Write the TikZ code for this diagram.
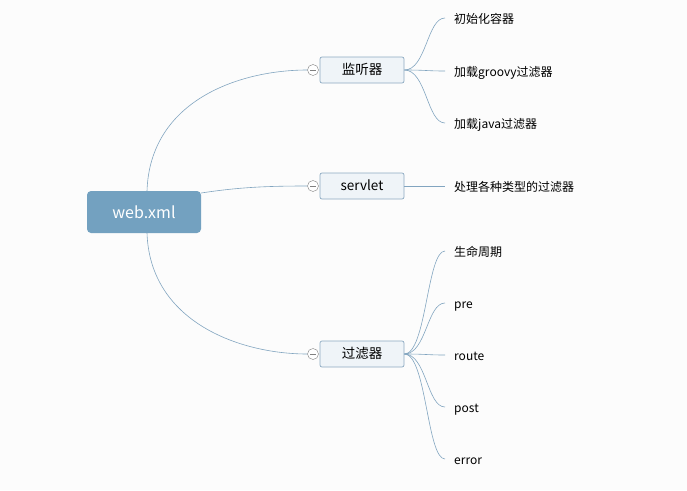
\documentclass[tikz,border=0pt]{standalone}
\usepackage{fontspec}
\setmainfont{Noto Sans CJK SC}
\definecolor{rootblue}{RGB}{115,161,192}
\definecolor{topicfill}{RGB}{239,244,248}
\definecolor{topicline}{RGB}{140,170,194}
\definecolor{branch}{RGB}{130,165,192}
\definecolor{bg}{RGB}{252,252,252}
\tikzset{
  rootbox/.style={fill=rootblue, rounded corners=4pt, text=white, minimum width=114pt, minimum height=42pt, font=\fontsize{16}{18}\selectfont},
  topicbox/.style={draw=topicline, line width=0.7pt, fill=topicfill, rounded corners=2pt, minimum width=84pt, minimum height=26pt, text height=10pt, text depth=2pt, font=\fontsize{13.5}{15}\selectfont},
  fold/.style={circle, draw=gray, fill=white, minimum size=11pt, inner sep=0pt, path picture={\draw[gray] ([xshift=-3pt]path picture bounding box.center) -- ([xshift=3pt]path picture bounding box.center);}},
  leaf/.style={anchor=west, inner xsep=9pt, text height=11pt, text depth=1pt, font=\fontsize{12}{14}\selectfont},
  link/.style={draw=branch, line width=0.6pt}
}
\begin{document}
\begin{tikzpicture}[x=1pt, y=-1pt]
\fill[bg] (0,0) rectangle (687,490);
\useasboundingbox (0,0) rectangle (687,490);

\node[rootbox] (root) at (144,212) {web.xml};

\node[topicbox] (lis) at (362,70) {监听器};
\node[topicbox] (srv) at (362,186) {servlet};
\node[topicbox] (flt) at (362,354) {过滤器};

\node[fold] (f1) at (313,70) {};
\node[fold] (f2) at (313,186) {};
\node[fold] (f3) at (313,354) {};

\draw[link] (147,191) .. controls (150,100) and (240,70) .. (f1.west);
\draw[link] (root.east |- 0,193) .. controls (240,187) and (270,186) .. (f2.west);
\draw[link] (147,233) .. controls (150,322) and (240,354) .. (f3.west);

\node[leaf] (l1) at (445,18) {初始化容器};
\node[leaf] (l2) at (445,71) {加载groovy过滤器};
\node[leaf] (l3) at (445,123) {加载java过滤器};
\node[leaf] (s1) at (445,186) {处理各种类型的过滤器};
\node[leaf] (t1) at (445,251) {生命周期};
\node[leaf] (t2) at (445,303) {pre};
\node[leaf] (t3) at (445,355) {route};
\node[leaf] (t4) at (445,407) {post};
\node[leaf] (t5) at (445,459) {error};

\foreach \c in {l1,l2,l3}
  \draw[link] (lis.east) .. controls +(22,0) and ([xshift=-18pt]\c.west) .. (\c.west);
\draw[link] (srv.east) -- (s1.west);
\foreach \c in {t1,t2,t3,t4,t5}
  \draw[link] (flt.east) .. controls +(22,0) and ([xshift=-18pt]\c.west) .. (\c.west);
\end{tikzpicture}
\end{document}
